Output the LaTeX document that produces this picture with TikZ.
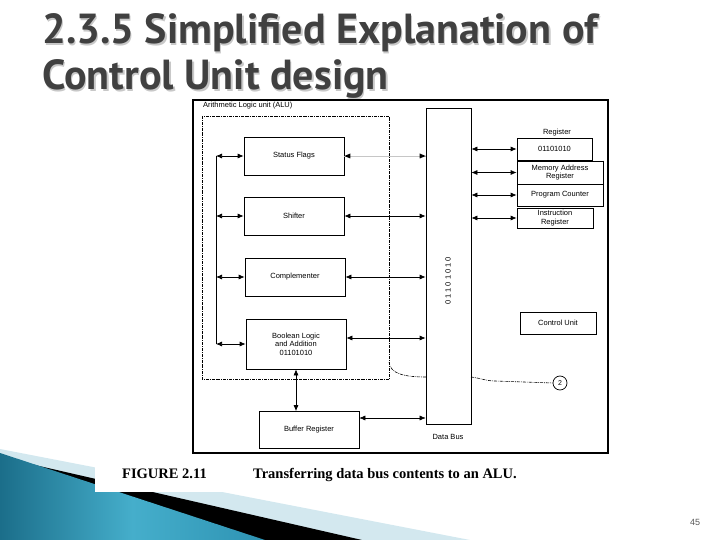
\documentclass[tikz,border=0pt]{standalone}
\usepackage{fontspec}
\setmainfont{Liberation Sans}
\newfontfamily\titlefont{PT Sans}
\newfontfamily\capfont{Liberation Serif}
\usetikzlibrary{arrows.meta}
\definecolor{titlegray}{HTML}{404040}
\definecolor{shadowgray}{HTML}{C8C8C8}
\definecolor{tealdark}{HTML}{1B6E8A}
\definecolor{teallight}{HTML}{45AECB}
\definecolor{tealmid}{HTML}{2E93B3}
\definecolor{stripelight}{HTML}{D3E8EF}
\definecolor{pagegray}{HTML}{595959}
\tikzset{
  box/.style={draw, line width=0.7pt, inner sep=1pt, align=center,
    font=\fontsize{7.5}{8.6}\selectfont},
  lbl/.style={inner sep=0pt, font=\fontsize{7.5}{8.6}\selectfont},
  dbl/.style={<->, >={Latex[length=6pt,width=5pt]}, line width=0.7pt},
  dashdot/.style={line width=0.6pt, dash pattern=on 3pt off 1pt on 0.8pt off 1pt},
  titletext/.style={inner sep=0pt, anchor=base west, font=\titlefont\bfseries\fontsize{42}{48}\selectfont},
}
\begin{document}
\begin{tikzpicture}[x=1pt,y=-1pt]
\useasboundingbox (0,0) rectangle (720,540);
% decoration bottom-left
\fill[stripelight] (0,449) -- (470,540) -- (0,540) -- cycle;
\fill[black] (0,457) -- (362,540) -- (0,540) -- cycle;
\shade[left color=tealdark, right color=tealmid, middle color=teallight] (0,453) -- (265,540) -- (0,540) -- cycle;
\fill[white] (95,440) rectangle (620,492);
% title
\foreach \dx/\col in {1.5/shadowgray, 0/titlegray}{
  \node[titletext, text=\col] at (42+\dx,44+\dx) {2.3.5 Simplified Explanation of};
  \node[titletext, text=\col] at (42+\dx,90+\dx) {Control Unit design};
}
% page number
\node[inner sep=0pt, text=pagegray, font=\fontsize{9}{10}\selectfont] (pg) at (695,522) {45};
% figure frame
\draw[line width=1.3pt] (193,100) rectangle (608,453);
\node[lbl, anchor=west] (alulbl) at (203,106) {Arithmetic Logic unit (ALU)};
\draw[dashdot] (202,116) rectangle (389,379);
% ALU boxes
\node[box, minimum width=100pt, minimum height=38pt] (sf) at (294,156) {Status Flags};
\node[box, minimum width=100pt, minimum height=38pt] (sh) at (294,216) {Shifter};
\node[box, minimum width=100pt, minimum height=38pt] (cp) at (295,277) {Complementer};
\node[box, minimum width=100pt, minimum height=50pt] (bl) at (296,344) {Boolean Logic\\and Addition\\01101010};
\node[box, minimum width=100pt, minimum height=37pt] (buf) at (309,430) {Buffer Register};
% data bus
\node[draw, line width=0.7pt, minimum width=45pt, minimum height=316pt, inner sep=0pt] (bus) at (448.5,266) {};
\node[lbl, rotate=90] (bits) at (448,281) {0 1 1 0 1 0 1 0};
\node[lbl] (buslbl) at (448,437) {Data Bus};
% left vertical bus
\coordinate (lt) at (216,156);
\coordinate (lb) at (216,344);
\draw[line width=0.7pt] (lt) -- (lb);
\foreach \b in {sf,sh,cp,bl}{
  \draw[dbl] (lt |- \b.west) -- (\b.west);
}
% ALU to data bus
\coordinate (blr) at ([yshift=6pt]bl.east);
\coordinate (bufr) at ([yshift=12pt]buf.east);
\draw[line width=0.4pt, draw=gray!45] (sf.east) -- (bus.west |- sf.east);
\fill[black] (sf.east) -- ++(6,-2.5) -- ++(0,5) -- cycle;
\fill[black] (bus.west |- sf.east) -- ++(-6,-2.5) -- ++(0,5) -- cycle;
\draw[dbl] (sh.east) -- (bus.west |- sh.east);
\draw[dbl] (cp.east) -- (bus.west |- cp.east);
\draw[dbl] (blr) -- (bus.west |- blr);
\draw[dbl, line width=0.5pt] (bufr) -- (bus.west |- bufr);
\draw[dbl] (bl.south) -- (bl.south |- buf.north);
% registers
\node[lbl] (reglbl) at (557,133) {Register};
\node[box, minimum width=75pt, minimum height=22pt] (reg) at (554.5,149) {01101010};
\node[box, minimum width=86pt, minimum height=23pt] (mar) at (560,172.5) {Memory Address\\Register};
\node[box, minimum width=86pt, minimum height=22pt] (pc) at (560,195) {Program Counter};
\draw[line width=1.4pt] (mar.north east) -- (pc.south east);
\node[box, minimum width=76pt, minimum height=20pt] (ir) at (555,218) {Instruction\\Register};
\foreach \r in {reg,mar,pc,ir}{
  \draw[dbl] (bus.east |- \r.west) -- (\r.west);
}
\node[box, minimum width=76pt, minimum height=22pt] (cu) at (558,323) {Control Unit};
% circle 2 and dash-dot curves
\node[draw, circle, line width=0.7pt, minimum size=14pt, inner sep=0pt, font=\fontsize{7}{8}\selectfont] (c2) at (560,383) {2};
\coordinate (cs) at (389,362);
\coordinate (ce) at (426,377);
\draw[dashdot] (cs) .. controls (390,374) and (405,377) .. (ce);
\coordinate (ds) at (471,377);
\coordinate (dm) at (495,381);
\draw[dashdot] (ds) .. controls (480,378) and (486,381) .. (dm) -- (c2.west);
% caption
\node[inner sep=0pt, anchor=base west, font=\capfont\bfseries\fontsize{14.5}{16}\selectfont] (fig) at (122,478) {FIGURE 2.11};
\node[inner sep=0pt, anchor=base west, font=\capfont\bfseries\fontsize{14.5}{16}\selectfont] (cap) at (253,478) {Transferring data bus contents to an ALU.};
\end{tikzpicture}
\end{document}
